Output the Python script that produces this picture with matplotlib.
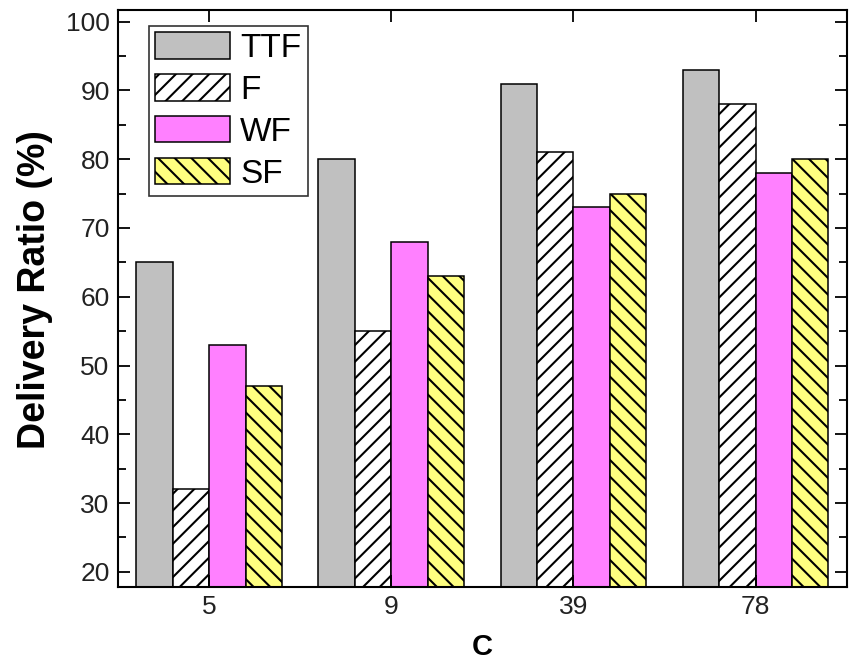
import matplotlib
matplotlib.use("Agg")
import matplotlib.pyplot as plt
from matplotlib.ticker import MultipleLocator
import numpy as np

plt.rcParams['font.family'] = ['Liberation Sans', 'DejaVu Sans']
plt.rcParams['hatch.linewidth'] = 1.5

# 数据
categories = ["5", "9", "39", "78"]
series_names = ["TTF", "F", "WF", "SF"]
ttf = [65, 80, 91, 93]
f_vals = [32, 55, 81, 88]
wf = [53, 68, 73, 78]
sf = [47, 63, 75, 80]

colors = ["#c0c0c0", "#ffffff", "#ff80ff", "#ffff80"]
hatches = [None, "//", None, "\\\\"]

fig = plt.figure(figsize=(8.57, 6.64), dpi=100)
ax = fig.add_axes([0.1377, 0.116, 0.8503, 0.869])

x = np.arange(len(categories))
width = 0.2
for i, (name, vals) in enumerate(zip(series_names, [ttf, f_vals, wf, sf])):
    ax.bar(x + (i - 1.5) * width, vals, width, color=colors[i],
           edgecolor="black", linewidth=1.1, hatch=hatches[i], label=name)

ax.set_xlim(-0.5, 3.5)
ax.set_ylim(17.8, 101.7)
ax.set_xticks(x)
ax.set_xticklabels(categories)
ax.yaxis.set_major_locator(MultipleLocator(10))
ax.yaxis.set_minor_locator(MultipleLocator(5))

ax.tick_params(axis="both", which="major", direction="in", length=8.5, width=1.3,
               labelsize=19, top=True, right=True, pad=6, labelcolor="#222222")
ax.tick_params(axis="y", which="minor", direction="in", length=5.5, width=1.3,
               right=True)
for sp in ax.spines.values():
    sp.set_linewidth(1.5)

ax.set_ylabel("Delivery Ratio (%)", fontsize=27, fontweight="bold")
ax.yaxis.set_label_coords(-0.089, 0.515)
ax.set_xlabel("C", fontsize=21, fontweight="bold", labelpad=10)

leg = ax.legend(loc="upper left", bbox_to_anchor=(0.042, 0.973), fontsize=24,
                frameon=True, fancybox=False, edgecolor="black",
                handlelength=2.25, handleheight=0.85, labelspacing=0.3,
                handletextpad=0.3, borderpad=0.2, borderaxespad=0)
leg.get_frame().set_linewidth(1.2)

fig.savefig("out.png", dpi=100)
